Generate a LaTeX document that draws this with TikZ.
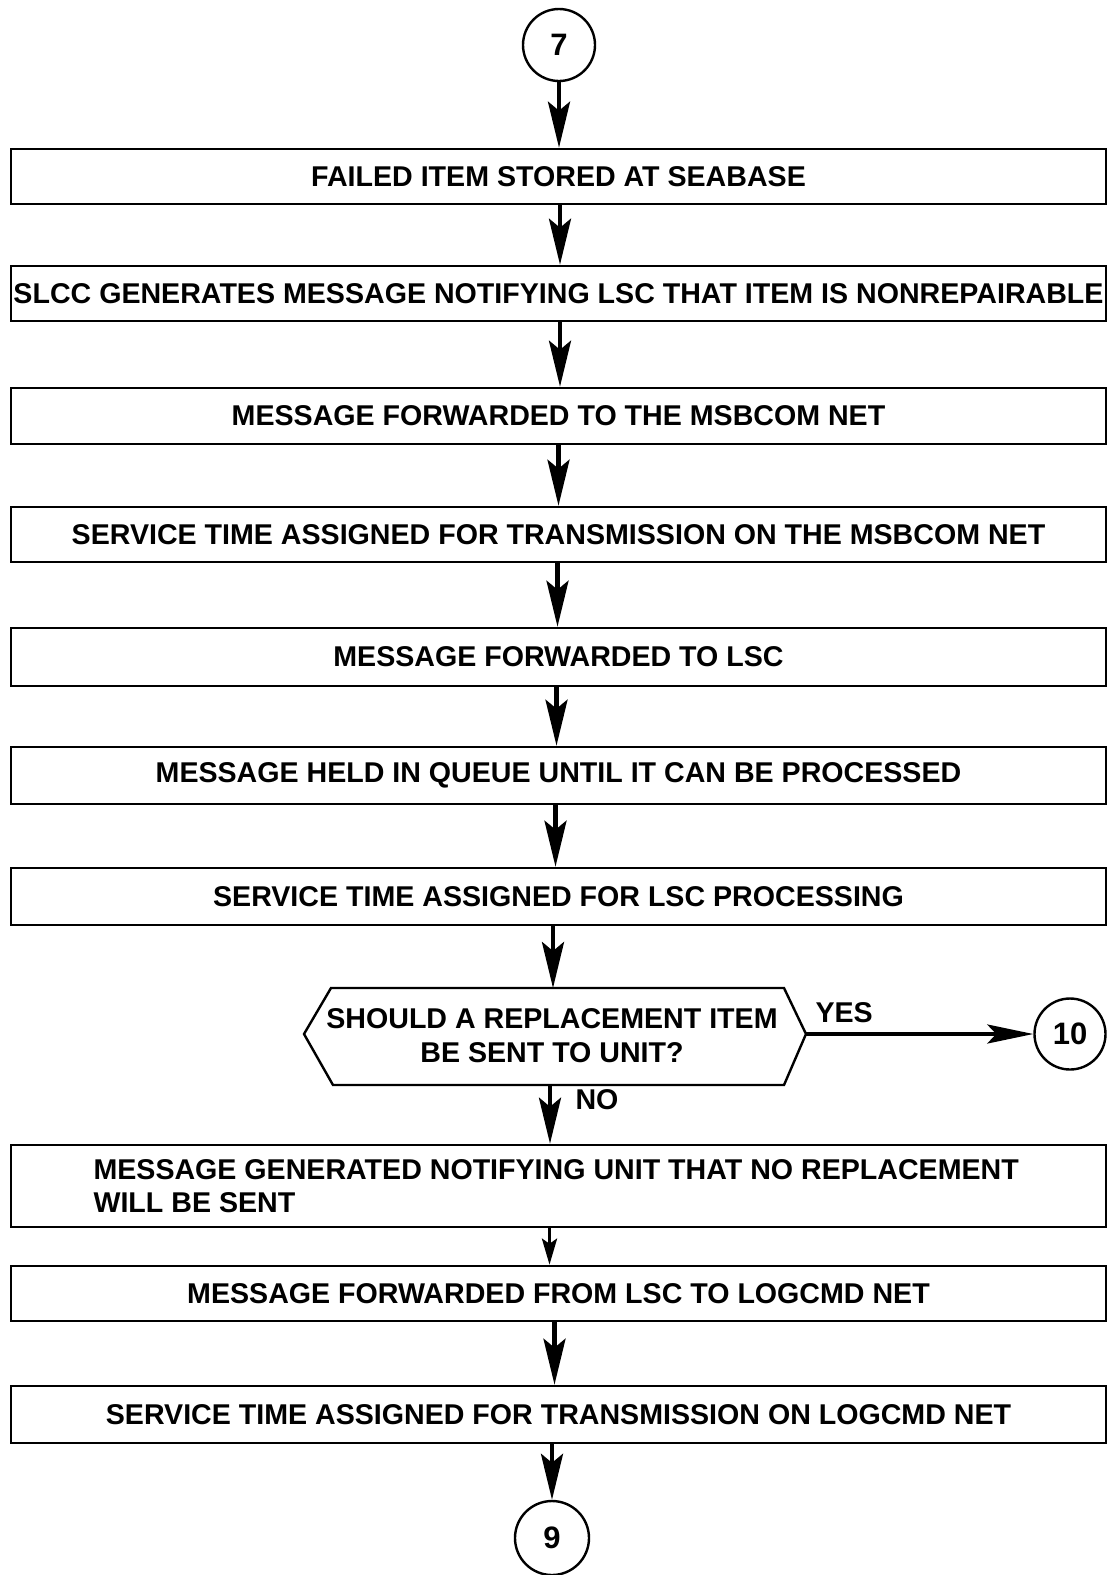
\documentclass[tikz,border=0pt]{standalone}
\usepackage{fontspec}
\setmainfont{Liberation Sans}
\usetikzlibrary{arrows.meta}
\begin{document}
\begin{tikzpicture}[x=1pt,y=-1pt,
  txt/.style={font=\fontsize{28.6}{34}\selectfont\bfseries},
  stepbox/.style={draw, line width=2.6pt, minimum width=1095pt, inner sep=0pt, txt},
  conn/.style={draw, circle, line width=2.4pt, minimum size=72pt, inner sep=0pt, font=\fontsize{31}{36}\selectfont\bfseries},
  flow/.style={line width=4.4pt, -{Stealth[length=46pt,width=22pt,inset=9pt]}},
  shortflow/.style={line width=3.6pt, -{Stealth[length=26pt,width=15pt,inset=5pt]}},
  side/.style={line width=4pt, -{Stealth[length=46pt,width=19pt,inset=9pt]}}]
\useasboundingbox (0,0) rectangle (1108,1575);

% connectors on the page
\node[conn] (c7) at (559,45) {7};
\node[conn, minimum size=71pt] (c10) at (1070,1034) {10};
\node[conn, minimum size=74pt] (c9) at (552,1538) {9};

% process steps
\node[stepbox, minimum height=55pt] (b1) at (558.5,176.5) {FAILED ITEM STORED AT SEABASE};
\node[stepbox, minimum height=55pt] (b2) at (558.5,293.5) {SLCC GENERATES MESSAGE NOTIFYING LSC THAT ITEM IS NONREPAIRABLE};
\node[stepbox, minimum height=56pt] (b3) at (558.5,416) {MESSAGE FORWARDED TO THE MSBCOM NET};
\node[stepbox, minimum height=55pt] (b4) at (558.5,534.5) {SERVICE TIME ASSIGNED FOR TRANSMISSION ON THE MSBCOM NET};
\node[stepbox, minimum height=58pt] (b5) at (558.5,657) {MESSAGE FORWARDED TO LSC};
\node[stepbox, minimum height=57pt] (b6) at (558.5,775.5) {MESSAGE HELD IN QUEUE UNTIL IT CAN BE PROCESSED};
\node[stepbox, minimum height=57pt] (b7) at (558.5,896.5) {SERVICE TIME ASSIGNED FOR LSC PROCESSING};

% decision
\coordinate (hL) at (304,1034);
\coordinate (hR) at (806,1034);
\coordinate (hT) at (553,988);
\coordinate (hB) at (550,1085);
\draw[line width=2.4pt, line join=miter] (hL) -- (331,988) -- (784,988) -- (hR) -- (784,1085) -- (333,1085) -- cycle;
\node[txt, align=center] (q) at (552,1036) {SHOULD A REPLACEMENT ITEM\\BE SENT TO UNIT?};
\node[txt, anchor=west] (yes) at (812,1013) {YES};
\node[txt, anchor=west] (no) at (572,1100) {NO};

\node[stepbox, minimum height=82pt] (b8) at (558.5,1186) {};
\node[txt, anchor=west, align=left, font=\fontsize{28.6}{33}\selectfont\bfseries] (b8t) at (90,1186) {MESSAGE GENERATED NOTIFYING UNIT THAT NO REPLACEMENT\\WILL BE SENT};
\node[stepbox, minimum height=55pt] (b9) at (558.5,1293.5) {MESSAGE FORWARDED FROM LSC TO LOGCMD NET};
\node[stepbox, minimum height=57pt] (b10) at (558.5,1414.5) {SERVICE TIME ASSIGNED FOR TRANSMISSION ON LOGCMD NET};

% flow lines
\draw[flow] (c7.south) -- (c7.south |- b1.north);
\draw[flow] ([xshift=1.5pt]b1.south) -- ([xshift=1.5pt]b2.north);
\draw[flow] ([xshift=1.5pt]b2.south) -- ([xshift=1.5pt]b3.north);
\draw[flow] ([xshift=0pt]b3.south) -- ([xshift=0pt]b4.north);
\draw[flow] ([xshift=-1pt]b4.south) -- ([xshift=-1pt]b5.north);
\draw[flow] ([xshift=-2pt]b5.south) -- ([xshift=-2pt]b6.north);
\draw[flow] ([xshift=-3pt]b6.south) -- ([xshift=-3pt]b7.north);
\draw[flow] (b7.south -| hT) -- (hT);
\draw[side] (hR) -- (c10.west);
\draw[flow] (hB) -- (hB |- b8.north);
\draw[shortflow] ([xshift=-9pt]b8.south) -- ([xshift=-9pt]b9.north);
\draw[flow] ([xshift=-4pt]b9.south) -- ([xshift=-4pt]b10.north);
\draw[flow] (b10.south -| c9) -- (c9.north);
\end{tikzpicture}
\end{document}
